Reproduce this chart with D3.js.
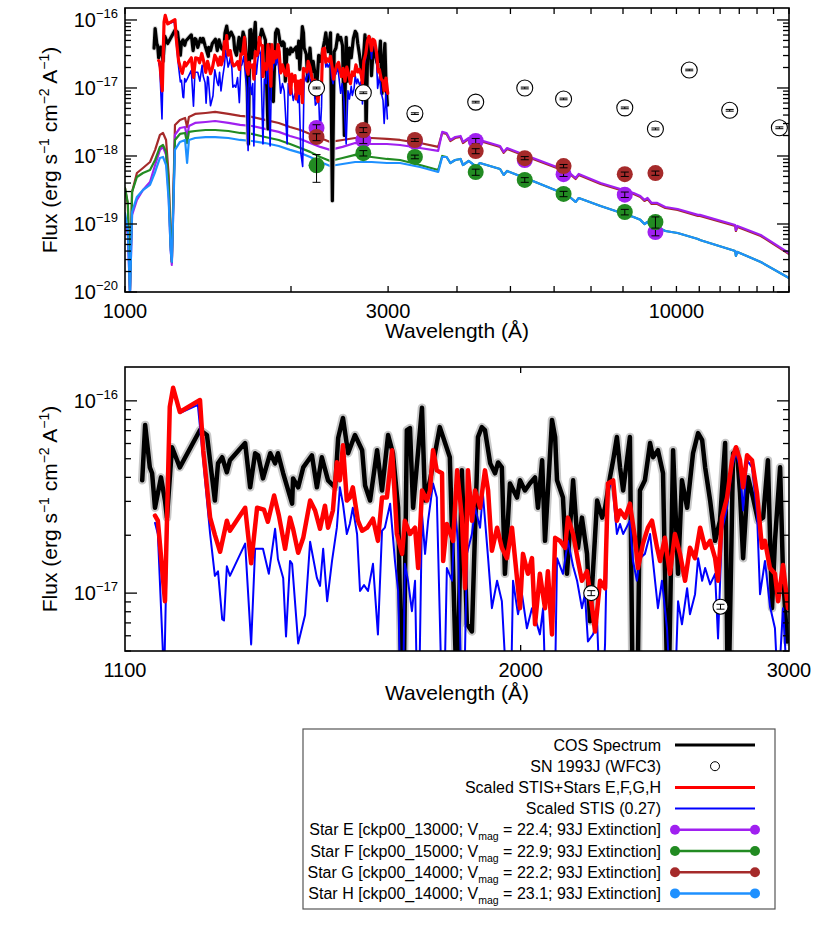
<!DOCTYPE html>
<html><head><meta charset="utf-8">
<script src="https://cdn.jsdelivr.net/npm/d3@7"></script>
<style>body{margin:0;background:#fff}svg{display:block;font-family:"Liberation Sans",Arial,Helvetica,sans-serif}</style>
</head><body><svg id="c" width="830" height="944"></svg>
<script>
// ---------------- DATA ----------------
const cosSpectrum = [[1129,3.86e-17],[1134,7.49e-17],[1142,4.51e-17],[1146,4.20e-17],[1151,2.78e-17],[1161.5,4.00e-17],[1168.5,3.03e-17],[1172,2.47e-17],[1181,5.74e-17],[1195,4.51e-17],[1232,7.05e-17],[1245,6.64e-17],[1260,3.03e-17],[1266,4.73e-17],[1274,5.09e-17],[1283,4.25e-17],[1289,4.91e-17],[1319,6.03e-17],[1329,3.55e-17],[1339,5.34e-17],[1345,5.21e-17],[1355,3.95e-17],[1370,5.34e-17],[1380,4.73e-17],[1386,5.34e-17],[1397,4.20e-17],[1416,2.92e-17],[1418,3.95e-17],[1429,3.55e-17],[1440,4.51e-17],[1459,5.21e-17],[1470,3.55e-17],[1481,5.09e-17],[1495,3.86e-17],[1511,3.55e-17],[1518,6.41e-17],[1529,8.15e-17],[1541,5.34e-17],[1557,6.64e-17],[1574,5.54e-17],[1581,3.63e-17],[1593,3.03e-17],[1610,5.54e-17],[1622,3.42e-17],[1637,6.64e-17],[1649,5.34e-17],[1662,2.78e-17],[1674,1.5e-18],[1684,7.05e-17],[1692,7.22e-17],[1700,2.78e-17],[1723,9.2e-17],[1731,3.03e-17],[1744,3.86e-17],[1770,7.3e-17],[1797,5.09e-17],[1817,2.5e-18],[1830,4.35e-17],[1844,6.9e-18],[1858,6.32e-18],[1875,6.48e-17],[1886,7.3e-17],[1895,7.05e-17],[1910,4.73e-17],[1924,4.2e-17],[1933,4.78e-17],[1944,4.51e-17],[1953,1.26e-17],[1968,3.72e-17],[1989,3.14e-17],[1998,3.86e-17],[2013,3.42e-17],[2028,3.72e-17],[2044,4.0e-17],[2053,2.78e-17],[2066,4.91e-17],[2075,1.87e-17],[2097,7.96e-17],[2107,6.48e-17],[2113,3.86e-17],[2132,3.14e-17],[2145,1.26e-17],[2165,3.86e-17],[2181,1.72e-17],[2194,2.47e-17],[2211,1.6e-17],[2221,7.13e-18],[2245,3.03e-17],[2262,2.47e-17],[2272,2.78e-17],[2289,4.0e-17],[2300,4.91e-17],[2313,6.48e-17],[2324,4.51e-17],[2335,3.42e-17],[2359,6.48e-17],[2377,2.2e-19],[2395,3.42e-17],[2413,3.86e-17],[2432,6.03e-17],[2443,5.09e-17],[2461,5.54e-17],[2480,4.2e-17],[2499,2.0e-18],[2518,5.54e-17],[2537,1.26e-17],[2552,3.86e-17],[2572,2.78e-17],[2595,5.34e-17],[2615,6.8e-17],[2631,6.25e-17],[2643,4.51e-17],[2663,3.03e-17],[2683,1.87e-17],[2703,2.38e-17],[2724,6.03e-17],[2736,2.0e-18],[2757,5.34e-17],[2773,5.54e-17],[2786,3.3e-17],[2799,1.52e-17],[2820,4.0e-17],[2841,3.14e-17],[2863,2.38e-17],[2885,2.47e-17],[2906,4.91e-17],[2924,8.35e-18],[2937,1.87e-17],[2960,4.51e-17],[2973,1.26e-17],[2991,5.6e-18]];

const stisScaled = [[1151,2.32e-17],[1156,2.03e-17],[1167,3.5e-18],[1177,9.3e-17],[1183,1.14e-16],[1195,8.65e-17],[1228,9.53e-17],[1238,4.91e-17],[1251,2.03e-17],[1260,1.23e-17],[1266,1.30e-17],[1274,7.32e-18],[1277.5,7.2e-18],[1283,1.38e-17],[1289,1.23e-17],[1319,1.81e-17],[1331,5.41e-18],[1339,1.70e-17],[1355,1.70e-17],[1367,1.26e-17],[1380,2.16e-17],[1386,1.50e-17],[1397,1.20e-17],[1403,5.95e-18],[1411.5,1.47e-17],[1416,1.42e-17],[1429,5.47e-18],[1444,7.69e-18],[1455,1.85e-17],[1470,1.20e-17],[1477,1.09e-17],[1484,1.70e-17],[1493,9.08e-18],[1504,1.47e-17],[1515,2.19e-17],[1522,3.55e-17],[1529,2.92e-17],[1538,2.03e-17],[1545,2.29e-17],[1552,2.78e-17],[1562,2.03e-17],[1569,1.025e-17],[1578.5,1.10e-17],[1588,1.025e-17],[1600,1.42e-17],[1612,6.10e-18],[1622,2.11e-17],[1629,2.19e-17],[1642,2.92e-17],[1654,1.47e-17],[1662,1.025e-17],[1672,1.2e-18],[1679,1.42e-17],[1687,1.16e-17],[1697,8.05e-18],[1705,1.16e-17],[1713,1.4e-18],[1723,2.59e-17],[1731,1.60e-17],[1739,2.38e-17],[1752,3.72e-17],[1762,3.14e-17],[1779,1.5e-18],[1789,1.35e-17],[1803,1.16e-17],[1811,2.78e-17],[1819,1.87e-17],[1833,1.4e-18],[1844,1.60e-17],[1858,2.03e-17],[1867,2.78e-17],[1881,2.19e-17],[1889,3.30e-17],[1904,1.52e-17],[1915,8.35e-18],[1930,1.16e-17],[1944,9.08e-18],[1968,1.5e-18],[1977,1.16e-17],[1992,7.77e-18],[2004,9.88e-18],[2019,6.56e-18],[2034.5,8.35e-18],[2050,6.88e-18],[2059,6.10e-18],[2069,8.35e-18],[2084,1.1e-18],[2100,7e-19],[2113,1.52e-17],[2132,1.26e-17],[2148,1.87e-17],[2165,1.38e-17],[2178,1.16e-17],[2194,8.35e-18],[2204,9.88e-18],[2214,5.60e-18],[2231,6.10e-18],[2245,7.13e-18],[2258,2e-18],[2272,5.41e-18],[2282,3.42e-17],[2296,3.86e-17],[2313,2.03e-17],[2324,2.29e-17],[2335,2.03e-17],[2359,2.38e-17],[2370,1.47e-17],[2384,1.16e-17],[2395,1.52e-17],[2413,1.60e-17],[2432,2.03e-17],[2461,8.35e-18],[2476,1.16e-17],[2495,6.56e-18],[2518,1.5e-18],[2537,9.08e-18],[2552,6.88e-18],[2572,1.06e-17],[2583,7.77e-18],[2603,9.88e-18],[2615,1.52e-17],[2631,1.16e-17],[2643,1.35e-17],[2663,1.11e-17],[2683,1.26e-17],[2695,5.81e-18],[2711,2.11e-17],[2732,2.78e-17],[2752.5,4.51e-17],[2769,5.34e-17],[2786,4.51e-17],[2799,2.69e-17],[2816,4.91e-17],[2837,4.51e-17],[2858.5,2.59e-17],[2871.5,9.88e-18],[2893,1.47e-17],[2915,8.55e-18],[2937,6.56e-18],[2951,3.0e-18],[2973,8.35e-18],[2991,3.5e-18]];

const stisPlusStars = [[1151,2.53e-17],[1156,2.38e-17],[1168.5,9.08e-18],[1177,9.3e-17],[1183,1.17e-16],[1195,8.75e-17],[1232,1.01e-16],[1238,5.54e-17],[1251,2.47e-17],[1260,2.01e-17],[1270,1.64e-17],[1283,2.38e-17],[1289,2.11e-17],[1319,2.78e-17],[1331,1.43e-17],[1343,2.78e-17],[1357,2.72e-17],[1365,2.35e-17],[1378,3.22e-17],[1388,2.53e-17],[1401,1.70e-17],[1411.5,2.47e-17],[1418,2.16e-17],[1429,1.62e-17],[1440,1.94e-17],[1455,3.03e-17],[1466,2.69e-17],[1477,2.16e-17],[1488,2.85e-17],[1495,2.19e-17],[1506,2.69e-17],[1515,4.79e-17],[1522,3.86e-17],[1529,5.88e-17],[1538,3.03e-17],[1545,3.14e-17],[1552,3.55e-17],[1564,2.38e-17],[1574,2.11e-17],[1586,2.19e-17],[1600,2.44e-17],[1612,1.87e-17],[1622,3.14e-17],[1634,3.14e-17],[1647,5.54e-17],[1659,2.03e-17],[1672,1.60e-17],[1679,2.38e-17],[1692,2.03e-17],[1705,2.19e-17],[1713,1.35e-17],[1723,3.42e-17],[1736,3.03e-17],[1744,3.42e-17],[1752,5.54e-17],[1762,4.35e-17],[1776,4.20e-17],[1779,1.47e-17],[1789,2.29e-17],[1806,1.87e-17],[1817,4.35e-17],[1830,2.47e-17],[1839,1.06e-17],[1847,4.35e-17],[1858,2.38e-17],[1867,3.42e-17],[1881,2.78e-17],[1895,4.35e-17],[1904,3.42e-17],[1915,1.66e-17],[1930,2.19e-17],[1944,1.72e-17],[1959,1.52e-17],[1974,2.19e-17],[1983,1.52e-17],[1998,8.35e-18],[2007,1.60e-17],[2022,1.26e-17],[2034.5,1.52e-17],[2044,6.88e-18],[2059,1.26e-17],[2075,8.35e-18],[2084,1.30e-17],[2097,6.10e-18],[2107,1.94e-17],[2122.5,1.87e-17],[2139,1.72e-17],[2148,2.47e-17],[2165,2.03e-17],[2181,1.47e-17],[2194,1.16e-17],[2211,1.30e-17],[2228,8.35e-18],[2238,6.32e-18],[2255,1.16e-17],[2272,1.06e-17],[2282,3.72e-17],[2300,3.86e-17],[2313,2.38e-17],[2324,2.69e-17],[2342,2.47e-17],[2359,2.92e-17],[2377,1.94e-17],[2388,1.35e-17],[2406,1.81e-17],[2424,2.19e-17],[2439,2.38e-17],[2458,1.72e-17],[2469,1.47e-17],[2487,1.94e-17],[2506,1.26e-17],[2525,2.03e-17],[2544.5,1.60e-17],[2564,1.16e-17],[2583,1.72e-17],[2603,1.52e-17],[2623,2.19e-17],[2643,1.72e-17],[2663,1.87e-17],[2683,1.52e-17],[2695,1.16e-17],[2711,2.47e-17],[2732,3.14e-17],[2752.5,4.91e-17],[2769,5.74e-17],[2786,4.91e-17],[2799,3.55e-17],[2816,5.21e-17],[2837,4.91e-17],[2858.5,3.30e-17],[2880,1.72e-17],[2893,1.87e-17],[2915,1.35e-17],[2937,1.26e-17],[2951,9.08e-18],[2973,1.40e-17],[2995.5,8.35e-18]];

// model stellar spectra (common wavelength grid)
const starWave = [1000,1012,1021,1030,1051,1078,1110,1134,1157,1172,1187,1200,1210,1216,1222,1232,1258,1285,1296,1306,1340,1400,1457,1540,1617,1700,1795,1900,1992,2080,2166,2260,2355,2480,2614,2800,2985,3153,3428,3698,3760,3830,3890,3970,4060,4101,4200,4340,4400,4788,4861,4930,5433,6342,6563,6650,7284,8361,8600,8750,8862,9015,9229,9546,10049,10938,11030,12780,12818,12900,14220,16000];
const starEModel = [1.23e-19,6.89e-20,9e-21,1.36e-19,2.26e-19,3.16e-19,4.15e-19,7.37e-19,1.23e-18,1.36e-18,1.04e-18,2.67e-19,4.15e-20,2.50e-20,1.15e-19,2.04e-18,2.58e-18,2.67e-18,1.84e-18,2.76e-18,3.06e-18,3.16e-18,3.27e-18,3.06e-18,2.86e-18,2.76e-18,2.50e-18,2.26e-18,1.97e-18,1.78e-18,1.55e-18,1.36e-18,1.23e-18,1.36e-18,1.55e-18,1.50e-18,1.50e-18,1.45e-18,1.31e-18,1.19e-18,2.26e-18,2.18e-18,1.72e-18,1.90e-18,1.97e-18,1.61e-18,1.84e-18,1.50e-18,1.72e-18,1.40e-18,1.15e-18,1.31e-18,9.67e-19,6.02e-19,4.75e-19,5.44e-19,4.01e-19,2.86e-19,2.58e-19,2.26e-19,2.41e-19,2.04e-19,2.04e-19,1.78e-19,1.66e-19,1.36e-19,1.36e-19,9.67e-20,8.16e-20,9.35e-20,6.89e-20,3.75e-20];
const starFModel = [3.39e-19,2.04e-19,1.07e-20,2.96e-19,4.91e-19,5.62e-19,6.23e-19,8.73e-19,1.36e-18,1.45e-18,1.15e-18,3.75e-19,4.91e-20,2.76e-20,1.50e-19,1.72e-18,2.11e-18,2.18e-18,1.55e-18,2.26e-18,2.33e-18,2.41e-18,2.41e-18,2.33e-18,2.18e-18,2.11e-18,1.90e-18,1.72e-18,1.50e-18,1.31e-18,1.15e-18,9.67e-19,8.44e-19,9.35e-19,1.04e-18,9.67e-19,9.04e-19,8.73e-19,7.37e-19,6.23e-19,1.0e-18,9.67e-19,7.89e-19,8.73e-19,9.04e-19,7.37e-19,8.44e-19,6.89e-19,7.89e-19,6.44e-19,5.26e-19,6.02e-19,4.44e-19,2.67e-19,2.11e-19,2.41e-19,1.84e-19,1.27e-19,1.15e-19,1.0e-19,1.07e-19,9.04e-20,9.04e-20,7.89e-20,7.37e-20,6.02e-20,5.82e-20,4.01e-20,3.39e-20,3.88e-20,2.76e-20,1.61e-20];
const starGModel = [3.39e-19,1.90e-19,1.07e-20,2.96e-19,5.62e-19,6.66e-19,8.16e-19,1.23e-18,2.04e-18,2.18e-18,1.72e-18,5.26e-19,5.82e-20,2.76e-20,1.61e-19,2.86e-18,3.39e-18,3.62e-18,2.67e-18,3.75e-18,4.15e-18,4.29e-18,4.44e-18,4.15e-18,3.88e-18,3.75e-18,3.39e-18,3.06e-18,2.67e-18,2.41e-18,2.11e-18,1.84e-18,1.61e-18,1.72e-18,1.84e-18,1.84e-18,1.78e-18,1.72e-18,1.55e-18,1.36e-18,2.18e-18,2.11e-18,1.66e-18,1.84e-18,1.90e-18,1.55e-18,1.78e-18,1.45e-18,1.66e-18,1.36e-18,1.11e-18,1.27e-18,9.35e-19,5.82e-19,4.59e-19,5.26e-19,3.88e-19,2.76e-19,2.50e-19,2.18e-19,2.33e-19,1.97e-19,1.97e-19,1.72e-19,1.61e-19,1.31e-19,1.31e-19,9.35e-20,7.89e-20,9.04e-20,6.66e-20,3.62e-20];
const starHModel = [1.45e-19,8.16e-20,9e-21,1.50e-19,2.50e-19,3.16e-19,3.75e-19,5.82e-19,9.35e-19,9.67e-19,7.37e-19,2.26e-19,4.15e-20,2.76e-20,1.15e-19,1.23e-18,1.61e-18,1.72e-18,7.89e-19,1.72e-18,1.84e-18,1.90e-18,1.90e-18,1.84e-18,1.72e-18,1.66e-18,1.55e-18,1.40e-18,1.23e-18,1.11e-18,9.67e-19,8.16e-19,7.13e-19,7.63e-19,8.16e-19,8.16e-19,7.89e-19,7.89e-19,6.89e-19,5.82e-19,9.67e-19,9.67e-19,7.89e-19,8.73e-19,9.04e-19,7.37e-19,8.44e-19,6.89e-19,7.89e-19,6.44e-19,5.26e-19,6.02e-19,4.44e-19,2.67e-19,2.11e-19,2.41e-19,1.84e-19,1.27e-19,1.15e-19,1.0e-19,1.07e-19,9.04e-20,9.04e-20,7.89e-20,7.37e-20,6.02e-20,5.82e-20,4.01e-20,3.39e-20,3.88e-20,2.76e-20,1.61e-20];

// WFC3 photometry
const photWave = [2225,2705,3355,4325,5308,6242,8060,9160,10550,12490,15370];
const snFlux   = [1.0e-17,8.5e-18,4.2e-18,6.2e-18,1.0e-17,6.9e-18,5.1e-18,2.5e-18,1.84e-17,4.7e-18,2.6e-18];
const snErr    = [3e-19,2.5e-19,1.2e-19,1.8e-19,3e-19,2e-19,1.5e-19,8e-20,5e-19,1.4e-19,8e-20];
const starEPhot = [2.58e-18,1.72e-18,1.62e-18,1.66e-18,8.7e-19,5.4e-19,2.7e-19,7.6e-20];
const starEErr  = [3e-19,2e-19,1.5e-19,1.5e-19,7e-20,4e-20,2.5e-20,9e-21];
const starFPhot = [7.3e-19,1.1e-18,9.7e-19,5.8e-19,4.45e-19,2.77e-19,1.5e-19,1.07e-19];
const starFErr  = [3.2e-19,1e-19,6e-20,6e-20,3.5e-20,2.5e-20,1.4e-20,2e-20];
const starGPhot = [1.9e-18,2.41e-18,1.72e-18,1.18e-18,9.3e-19,7.1e-19,5.4e-19,5.6e-19];
const starGErr  = [2.2e-19,2e-19,8e-20,1e-19,5e-20,4e-20,4e-20,4e-20];

const topXLabels = [1000,3000,10000];
const botXLabels = [1100,2000,3000];
const legendLabels = ["COS Spectrum","SN 1993J (WFC3)","Scaled STIS+Stars E,F,G,H","Scaled STIS (0.27)"];
const starLegend = [["Star E [ckp00_13000; V","mag"," = 22.4; 93J Extinction]"],["Star F [ckp00_15000; V","mag"," = 22.9; 93J Extinction]"],["Star G [ckp00_14000; V","mag"," = 22.2; 93J Extinction]"],["Star H [ckp00_14000; V","mag"," = 23.1; 93J Extinction]"]];

// ---------------- STYLE ----------------
const C = {E:"#a020f0", F:"#228b22", G:"#a52a2a", H:"#1e90ff", red:"#ff0000", blue:"#0000ff", gray:"#c8c8c8"};
const svg = d3.select("#c");
const L = 125, R = 789;

function decadeTicks(lo, hi){
  const out=[];
  for(let e=Math.floor(Math.log10(lo)); e<=Math.ceil(Math.log10(hi)); e++)
    for(let m=1;m<=9;m++){ const v=m*Math.pow(10,e); if(v>=lo*0.999 && v<=hi*1.001) out.push({v, major:m===1, e}); }
  return out;
}

function panel(cfg){
  const {id, x, y, top, bottom, xTicks, xLabels, yLo, yHi} = cfg;
  const g = svg.append("g");
  g.append("clipPath").attr("id", id).append("rect").attr("x",L).attr("y",top).attr("width",R-L).attr("height",bottom-top);
  const plot = g.append("g").attr("clip-path", `url(#${id})`);
  g.append("rect").attr("x",L).attr("y",top).attr("width",R-L).attr("height",bottom-top)
    .attr("fill","none").attr("stroke","#000").attr("stroke-width",1.6);
  decadeTicks(yLo,yHi).forEach(t=>{
    const yy=y(t.v), len=t.major?12:6;
    g.append("line").attr("x1",L).attr("x2",L+len).attr("y1",yy).attr("y2",yy).attr("stroke","#000").attr("stroke-width",1.3);
    g.append("line").attr("x1",R-len).attr("x2",R).attr("y1",yy).attr("y2",yy).attr("stroke","#000").attr("stroke-width",1.3);
    if(t.major){
      const tx=g.append("text").attr("x",118).attr("y",yy+7).attr("text-anchor","end").attr("font-size",20);
      tx.append("tspan").text("10");
      tx.append("tspan").attr("font-size",13).attr("dy",-9).text("\u2212"+Math.abs(t.e));
    }
  });
  xTicks.forEach(v=>{
    const xx=x(v);
    g.append("line").attr("x1",xx).attr("x2",xx).attr("y1",bottom).attr("y2",bottom-6).attr("stroke","#000").attr("stroke-width",1.3);
    g.append("line").attr("x1",xx).attr("x2",xx).attr("y1",top).attr("y2",top+6).attr("stroke","#000").attr("stroke-width",1.3);
  });
  xLabels.forEach(v=>{
    g.append("text").attr("x",x(v)).attr("y",bottom+26).attr("text-anchor","middle").attr("font-size",20).text(v);
  });
  g.append("text").attr("x",(L+R)/2).attr("y",bottom+cfg.titleDy).attr("text-anchor","middle").attr("font-size",21).text("Wavelength (\u00c5)");
  const yt=g.append("text").attr("transform",`translate(57,${(top+bottom)/2}) rotate(-90)`).attr("text-anchor","middle").attr("font-size",21);
  yt.append("tspan").text("Flux (erg s");
  yt.append("tspan").attr("font-size",14).attr("dy",-8).text("\u22121");
  yt.append("tspan").attr("dy",8).text(" cm");
  yt.append("tspan").attr("font-size",14).attr("dy",-8).text("\u22122");
  yt.append("tspan").attr("dy",8).text(" A");
  yt.append("tspan").attr("font-size",14).attr("dy",-8).text("\u22121");
  yt.append("tspan").attr("dy",8).text(")");
  return plot;
}

function drawLine(plot, x, y, data, color, w){
  const line=d3.line().x(d=>x(d[0])).y(d=>y(d[1]));
  plot.append("path").attr("d",line(data)).attr("fill","none").attr("stroke",color)
    .attr("stroke-width",w).attr("stroke-linejoin","round").attr("stroke-linecap","round");
}

function drawPhot(plot, x, y, waves, flux, err, fill, stroke, r){
  waves.slice(0,flux.length).forEach((w,i)=>{
    const cx=x(w), cy=y(flux[i]);
    plot.append("circle").attr("cx",cx).attr("cy",cy).attr("r",r).attr("fill",fill)
      .attr("stroke",stroke||"none").attr("stroke-width",stroke?1.1:0);
    const y1=y(flux[i]+err[i]), y2=y(flux[i]-err[i]);
    plot.append("line").attr("x1",cx).attr("x2",cx).attr("y1",y1).attr("y2",y2).attr("stroke","#000").attr("stroke-width",1);
    [y1,y2].forEach(yy=>plot.append("line").attr("x1",cx-4).attr("x2",cx+4).attr("y1",yy).attr("y2",yy).attr("stroke","#000").attr("stroke-width",1));
  });
}

// ---------------- TOP PANEL ----------------
const xT = d3.scaleLog().domain([1000,16000]).range([L,R]);
const yT = d3.scaleLog().domain([1e-20,1.5e-16]).range([292,8]);
const topTicks = [1000,2000,3000,4000,5000,6000,7000,8000,9000,10000,11000,12000,13000,14000,15000,16000];
const pT = panel({id:"clipTop", x:xT, y:yT, top:8, bottom:292, xTicks:topTicks, xLabels:topXLabels, yLo:1e-20, yHi:1.5e-16, titleDy:46});
const starPts = m => starWave.map((w,i)=>[w,m[i]]);
drawLine(pT,xT,yT,starPts(starGModel),C.G,2.2);
drawLine(pT,xT,yT,starPts(starEModel),C.E,2.2);
drawLine(pT,xT,yT,starPts(starFModel),C.F,2.2);
drawLine(pT,xT,yT,starPts(starHModel),C.H,2.2);
drawLine(pT,xT,yT,cosSpectrum,"#d6d6d6",5);
drawLine(pT,xT,yT,cosSpectrum,"#000",3.2);
drawLine(pT,xT,yT,stisScaled,C.blue,1.6);
drawLine(pT,xT,yT,stisPlusStars,C.red,3.2);
drawPhot(pT,xT,yT,photWave,snFlux,snErr,"#fff","#000",8);
drawPhot(pT,xT,yT,photWave,starEPhot,starEErr,C.E,null,8);
drawPhot(pT,xT,yT,photWave,starFPhot,starFErr,C.F,null,8);
drawPhot(pT,xT,yT,photWave,starGPhot,starGErr,C.G,null,8);

// ---------------- BOTTOM PANEL ----------------
const xB = d3.scaleLog().domain([1100,3000]).range([L,R]);
const yB = d3.scaleLog().domain([5e-18,1.5e-16]).range([651,367]);
const pB = panel({id:"clipBot", x:xB, y:yB, top:367, bottom:651, xTicks:[2000], xLabels:botXLabels, yLo:5e-18, yHi:1.5e-16, titleDy:49});
drawLine(pB,xB,yB,cosSpectrum,C.gray,8.5);
drawLine(pB,xB,yB,cosSpectrum,"#000",4.5);
drawLine(pB,xB,yB,stisScaled,C.blue,2);
drawLine(pB,xB,yB,stisPlusStars,C.red,4.5);
drawPhot(pB,xB,yB,photWave,snFlux,snErr,"#fff","#000",7.5);

// ---------------- LEGEND ----------------
const lg = svg.append("g");
lg.append("rect").attr("x",303).attr("y",729).attr("width",472).attr("height",180).attr("fill","#fff").attr("stroke","#555").attr("stroke-width",1.2);
const rowY = i => 745 + i*21.2;
legendLabels.forEach((t,i)=>{
  lg.append("text").attr("x",661).attr("y",rowY(i)+5.5).attr("text-anchor","end").attr("font-size",16).text(t);
});
lg.append("line").attr("x1",675).attr("x2",755).attr("y1",rowY(0)).attr("y2",rowY(0)).attr("stroke","#000").attr("stroke-width",3);
lg.append("circle").attr("cx",715).attr("cy",rowY(1)).attr("r",4.5).attr("fill","#fff").attr("stroke","#000").attr("stroke-width",1);
lg.append("line").attr("x1",675).attr("x2",755).attr("y1",rowY(2)).attr("y2",rowY(2)).attr("stroke",C.red).attr("stroke-width",3);
lg.append("line").attr("x1",675).attr("x2",755).attr("y1",rowY(3)).attr("y2",rowY(3)).attr("stroke",C.blue).attr("stroke-width",2);
[C.E,C.F,C.G,C.H].forEach((col,k)=>{
  const i=4+k, yy=rowY(i);
  const tx=lg.append("text").attr("x",661).attr("y",yy+5.5).attr("text-anchor","end").attr("font-size",16);
  tx.append("tspan").text(starLegend[k][0]);
  tx.append("tspan").attr("font-size",10.5).attr("dy",5).text(starLegend[k][1]);
  tx.append("tspan").attr("dy",-5).text(starLegend[k][2]);
  lg.append("line").attr("x1",675).attr("x2",755).attr("y1",yy).attr("y2",yy).attr("stroke",col).attr("stroke-width",2.5);
  [675,755].forEach(cx=>lg.append("circle").attr("cx",cx).attr("cy",yy).attr("r",5).attr("fill",col));
});
</script></body></html>
